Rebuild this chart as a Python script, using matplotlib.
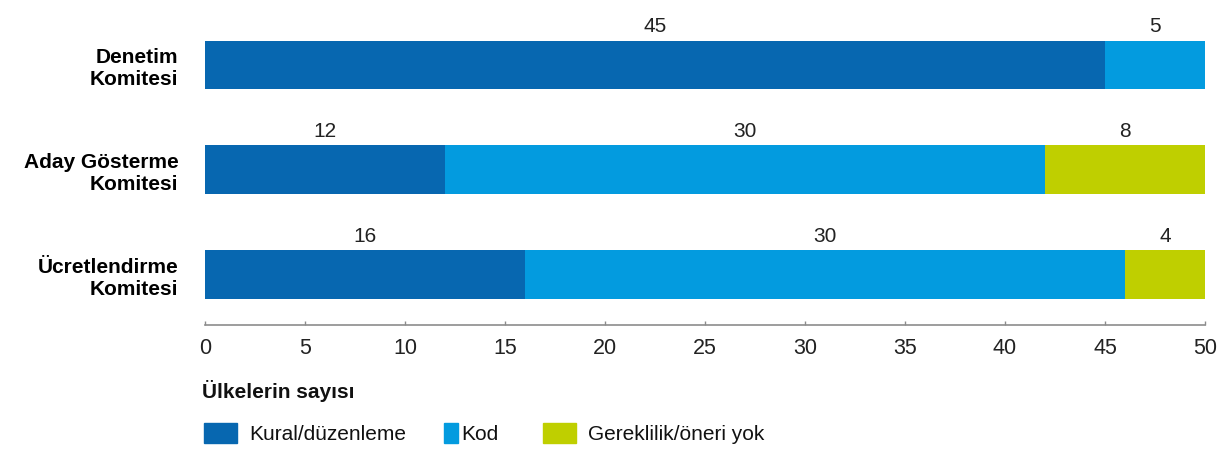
import matplotlib
matplotlib.use("Agg")
import matplotlib.pyplot as plt
from matplotlib.patches import Rectangle

plt.rcParams['font.family'] = ['Liberation Sans', 'DejaVu Sans']

committees = ['Denetim\nKomitesi', 'Aday Gösterme\nKomitesi', 'Ücretlendirme\nKomitesi']
series_names = ['Kural/düzenleme', 'Kod', 'Gereklilik/öneri yok']
rule = [45, 12, 16]
code = [5, 30, 30]
none_req = [0, 8, 4]
colors = ['#0767B0', '#039BDF', '#BFCF00']
xticks = [0, 5, 10, 15, 20, 25, 30, 35, 40, 45, 50]

fig = plt.figure(figsize=(12.31, 4.54), dpi=100)
ax = fig.add_axes([205 / 1231, 1 - 325 / 454, 1000 / 1231, 325 / 454])

bar_h = 0.465
ypos = list(range(len(committees)))
left = [0] * len(committees)
for vals, col in zip([rule, code, none_req], colors):
    ax.barh(ypos, vals, left=left, height=bar_h, color=col, edgecolor='none')
    for y, l, v in zip(ypos, left, vals):
        if v > 0:
            ax.annotate(str(v), xy=(l + v / 2, y - bar_h / 2), xytext=(0, 10),
                        textcoords='offset points', ha='center', va='center',
                        fontsize=15, color='#222222')
    left = [a + b for a, b in zip(left, vals)]

ax.set_xlim(0, 50)
ax.set_ylim(2.482, -0.62)
ax.set_xticks(xticks)
ax.set_yticks(ypos)
ax.set_yticklabels(committees, fontsize=15, fontweight='bold', ha='right',
                   multialignment='right')
ax.tick_params(axis='y', length=0, pad=19)
ax.tick_params(axis='x', direction='in', length=3, width=1, color='#8c8c8c',
               pad=9, labelsize=15.5, labelcolor='#222222')
for s in ['top', 'right', 'left']:
    ax.spines[s].set_visible(False)
ax.spines['bottom'].set_color('#8c8c8c')
ax.spines['bottom'].set_linewidth(1.2)

W, H = 1231, 454
fig.text(202 / W, 1 - 391 / H, 'Ülkelerin sayısı', fontsize=15, fontweight='bold',
         ha='left', va='center', color='#111111')

# legend drawn by hand: swatch boxes and labels along the bottom
legend_items = [(204, 33, 249), (444, 14, 461), (543, 33, 588)]
for (x0, w, tx), name, col in zip(legend_items, series_names, colors):
    fig.patches.append(Rectangle((x0 / W, 1 - 443 / H), w / W, 20 / H,
                                 transform=fig.transFigure, color=col))
    fig.text(tx / W, 1 - 434 / H, name, fontsize=15, ha='left', va='center',
             color='#111111')

fig.savefig('out.png', dpi=100)
